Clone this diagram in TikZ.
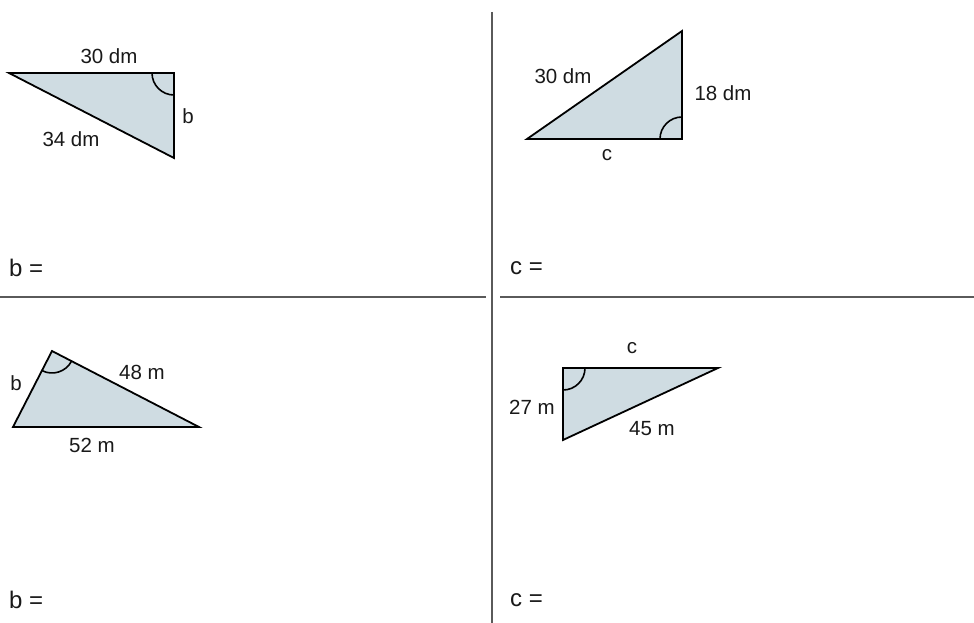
\documentclass[tikz,border=0pt]{standalone}
\usepackage{fontspec}
\setmainfont{Liberation Sans}
\usepackage{xcolor}
\usepackage{tikz}
\usetikzlibrary{positioning,calc}
\definecolor{trifill}{RGB}{207,220,226}
\definecolor{rulegray}{RGB}{90,90,90}
\definecolor{textdark}{RGB}{25,25,25}

\begin{document}
\begin{tikzpicture}[x=1pt, y=-1pt, tri/.style={draw=black, fill=trifill, line width=1.8pt, line join=miter}, rangle/.style={draw=black, line width=1.6pt}, lbl/.style={inner sep=0pt, text=textdark, font=\fontsize{20.5}{22}\selectfont}, answer/.style={inner sep=0pt, anchor=west, text=textdark, font=\fontsize{24}{26}\selectfont}, sep/.style={draw=rulegray, line width=1.3pt}]
\useasboundingbox (0,0) rectangle (974,623);
% separators
\coordinate (vtop) at (492,12);
\coordinate (vbot) at (492,623);
\coordinate (hl0) at (0,297);
\coordinate (hl1) at (486,297);
\coordinate (hr0) at (500,297);
\coordinate (hr1) at (974,297);
\draw[sep] (vtop) -- (vbot);
\draw[sep] (hl0) -- (hl1);
\draw[sep] (hr0) -- (hr1);
% triangle 1
\coordinate (a1) at (9,73);
\coordinate (b1) at (174,73);
\coordinate (c1) at (174,158);
\draw[tri] (a1) -- (b1) -- (c1) -- cycle;
\draw[rangle] ([shift={(180:22pt)}]b1) arc[start angle=180, end angle=270, radius=22pt];
\node[lbl] (t1ab) at (109,56) {30 dm};
\node[lbl] (t1bc) at (188,116) {b};
\node[lbl] (t1ca) at (71,139) {34 dm};
\node[answer] (ans1) at (9,268) {b =};
% triangle 2
\coordinate (a2) at (527,139);
\coordinate (b2) at (682,139);
\coordinate (c2) at (682,31);
\draw[tri] (a2) -- (b2) -- (c2) -- cycle;
\draw[rangle] ([shift={(180:22pt)}]b2) arc[start angle=180, end angle=90, radius=22pt];
\node[lbl] (t2ca) at (563,76) {30 dm};
\node[lbl] (t2bc) at (723,93) {18 dm};
\node[lbl] (t2ab) at (607,155) {c};
\node[answer] (ans2) at (510,268) {c =};
% triangle 3
\coordinate (a3) at (13,427);
\coordinate (b3) at (199,427);
\coordinate (c3) at (52,351);
\draw[tri] (a3) -- (b3) -- (c3) -- cycle;
\draw[rangle] ([shift={(242.8:22pt)}]c3) arc[start angle=242.8, end angle=332.7, radius=22pt];
\node[lbl] (t3ca) at (16,383) {b};
\node[lbl] (t3bc) at (142,372) {48 m};
\node[lbl] (t3ab) at (92,445) {52 m};
\node[answer] (ans3) at (9,600) {b =};
% triangle 4
\coordinate (a4) at (563,368);
\coordinate (b4) at (718,368);
\coordinate (c4) at (563,440);
\draw[tri] (a4) -- (b4) -- (c4) -- cycle;
\draw[rangle] ([shift={(0:22pt)}]a4) arc[start angle=0, end angle=-90, radius=22pt];
\node[lbl] (t4ab) at (632,348) {c};
\node[lbl] (t4ca) at (532,407) {27 m};
\node[lbl] (t4bc) at (652,429) {45 m};
\node[answer] (ans4) at (510,600) {c =};
\end{tikzpicture}
\end{document}
